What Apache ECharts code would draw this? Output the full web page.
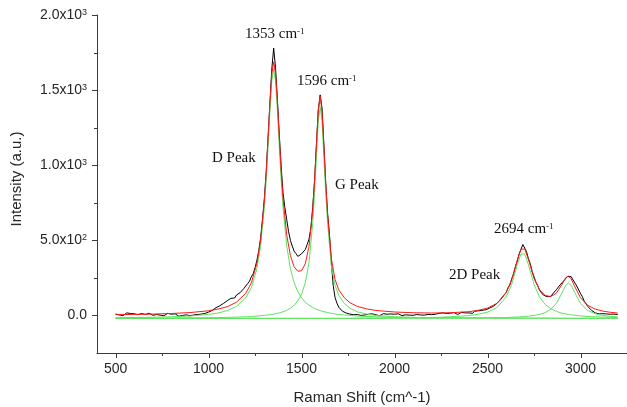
<!DOCTYPE html>
<html>
<head>
<meta charset="utf-8">
<script src="https://cdn.jsdelivr.net/npm/echarts@6/dist/echarts.min.js"></script>
<style>
html, body { margin: 0; padding: 0; background: #ffffff; }
#chart { width: 627px; height: 407px; }
</style>
</head>
<body>
<div id="chart"></div>
<script>
// Raman spectrum (cm^-1) with a four-Lorentzian fit

// measured spectrum, 500 to 3200 cm^-1 in steps of 10
const shiftStart = 500;
const shiftStep = 10;
const intensity = [
  10, 16, 3, 12, -1, 9, 17, 4, 13, 2,
  11, 18, 5, 0, 13, 19, 6, 3, 15, 7,
  1, 12, 6, 16, 2, 10, -2, 9, 14, 3,
  8, -1, 11, 3, -5, 7, 0, -7, 4, -8,
  -2, -8, 3, -5, 6, -1, 9, 2, 13, 16,
  22, 30, 34, 46, 52, 44, 64, 68, 80, 86,
  98, 102, 114, 122, 116, 136, 144, 152, 164, 180,
  193, 212, 228, 257, 278, 318, 368, 432, 518, 642,
  780, 960, 1190, 1420, 1640, 1780, 1650, 1440, 1210, 1000,
  820, 720, 640, 560, 500, 462, 428, 412, 393, 400,
  410, 422, 438, 472, 508, 582, 720, 900, 1140, 1370,
  1468, 1380, 1140, 880, 680, 540, 360, 200, 120, 82,
  55, 42, 28, 26, 16, 15, 9, 13, 5, 9,
  6, 12, 0, 9, 3, -3, 8, 2, 11, -1,
  4, 9, -2, 7, 12, 1, 8, 3, 10, 5,
  8, 1, 11, 6, -1, 9, 4, 13, 2, 7,
  1, 10, 6, 14, 3, 9, 2, 12, 7, 15,
  5, 12, 8, 2, 14, 9, 17, 6, 13, 10,
  15, 8, 19, 12, 6, 16, 21, 10, 17, 23,
  17, 25, 14, 28, 20, 31, 24, 34, 28, 38,
  36, 48, 50, 60, 63, 79, 85, 105, 115, 138,
  152, 184, 202, 244, 276, 324, 361, 410, 441, 472,
  448, 424, 376, 344, 291, 259, 221, 199, 166, 158,
  136, 135, 125, 137, 127, 143, 149, 171, 182, 203,
  209, 231, 241, 259, 263, 258, 236, 225, 196, 183,
  146, 125, 95, 83, 59, 51, 33, 29, 17, 16,
  10, 9, 12, 4, 10, 2, 8, 3, 9, 1,
  6
];

// fit curves, sampled on their own shift grid
const fitShift = [
  500, 600, 700, 800, 900, 1000, 1050, 1100, 1150, 1200,
  1230, 1260, 1280, 1300, 1310, 1320, 1330, 1340, 1350, 1360,
  1370, 1380, 1390, 1400, 1420, 1440, 1460, 1480, 1500, 1520,
  1540, 1560, 1570, 1580, 1590, 1600, 1610, 1620, 1630, 1640,
  1660, 1680, 1700, 1730, 1760, 1800, 1850, 1900, 2000, 2100,
  2200, 2300, 2400, 2450, 2500, 2550, 2600, 2630, 2660, 2680,
  2690, 2700, 2720, 2750, 2780, 2810, 2840, 2870, 2900, 2920,
  2935, 2950, 2970, 3000, 3040, 3080, 3120, 3160, 3200
];
const fitTotal = [
  5, 7, 9, 13, 19, 31, 42, 58, 88, 147,
  217, 347, 502, 762, 948, 1171, 1410, 1608, 1688, 1612,
  1419, 1185, 967, 786, 538, 399, 324, 294, 298, 344,
  460, 703, 898, 1137, 1364, 1461, 1356, 1121, 874, 669,
  380, 240, 170, 118, 85, 60, 44, 33, 23, 18,
  16, 18, 25, 34, 49, 80, 151, 237, 368, 440,
  453, 443, 373, 248, 170, 133, 126, 148, 205, 251,
  262, 244, 190, 118, 66, 42, 29, 21, 16
];
const bandD = [
  -15, -14, -12, -9, -4, 7, 16, 32, 60, 117,
  185, 312, 465, 723, 908, 1129, 1366, 1562, 1640, 1562,
  1366, 1129, 908, 723, 465, 312, 218, 158, 117, 88,
  68, 53, 46, 41, 36, 32, 28, 25, 22, 19,
  14, 10, 7, 3, 0, -4, -7, -9, -12, -14,
  -15, -16, -17, -17, -17, -18, -18, -18, -18, -18,
  -18, -18, -18, -18, -18, -18, -19, -19, -19, -19,
  -19, -19, -19, -19, -19, -19, -19, -19, -19
];
const bandG = [
  -19, -18, -18, -17, -16, -15, -14, -13, -11, -9,
  -7, -4, -2, 0, 1, 3, 5, 7, 9, 11,
  14, 17, 20, 24, 34, 48, 67, 97, 142, 217,
  353, 611, 813, 1057, 1289, 1390, 1289, 1057, 813, 611,
  330, 200, 135, 80, 48, 24, 9, 0, -9, -13,
  -15, -16, -17, -17, -17, -18, -18, -18, -18, -18,
  -18, -18, -18, -18, -18, -18, -18, -18, -19, -19,
  -19, -19, -19, -19, -19, -19, -19, -19, -19
];
const band2D = [
  -20, -20, -19, -19, -19, -19, -19, -19, -19, -19,
  -19, -19, -19, -19, -19, -19, -19, -19, -19, -19,
  -19, -19, -19, -19, -19, -19, -19, -19, -19, -19,
  -19, -19, -19, -19, -19, -19, -19, -19, -19, -19,
  -19, -19, -19, -19, -19, -18, -18, -17, -16, -15,
  -14, -9, -1, 8, 22, 52, 122, 207, 337, 409,
  420, 409, 337, 207, 122, 73, 44, 27, 15, 10,
  7, 4, 1, -3, -7, -9, -11, -12, -14
];
const band2Dp = [
  -20, -20, -20, -20, -20, -20, -20, -20, -20, -20,
  -20, -20, -20, -20, -20, -20, -20, -20, -20, -20,
  -20, -20, -20, -20, -20, -20, -20, -20, -20, -20,
  -20, -20, -20, -20, -20, -20, -20, -20, -20, -20,
  -20, -20, -20, -20, -20, -20, -20, -20, -19, -19,
  -19, -18, -18, -17, -16, -15, -14, -12, -11, -9,
  -8, -7, -5, 0, 7, 19, 41, 80, 149, 200,
  215, 200, 149, 80, 32, 11, 0, -6, -10
];

// axis ticks and labels
const xMajorTicks = [500, 1000, 1500, 2000, 2500, 3000];
const xMinorTicks = [750, 1250, 1750, 2250, 2750];
const yMajorTicks = [0, 500, 1000, 1500, 2000];
const yMinorTicks = [250, 750, 1250, 1750];
const yTickMantissa = ['0.0', '5.0x10', '1.0x10', '1.5x10', '2.0x10'];
const yTickExponent = ['', '2', '3', '3', '3'];

// peak annotations: main text, superscript
const peakNotes = [
  { text: '1353 cm', sup: '-1', x: 245, y: 41 },
  { text: '1596 cm', sup: '-1', x: 297, y: 88 },
  { text: 'D Peak', sup: '', x: 212, y: 165 },
  { text: 'G Peak', sup: '', x: 335, y: 192 },
  { text: '2694 cm', sup: '-1', x: 494, y: 236 },
  { text: '2D Peak', sup: '', x: 449, y: 282 }
];

const X_MIN = 400, X_MAX = 3250, Y_MIN = -250, Y_MAX = 2000;

const spectrum = intensity.map((v, i) => [shiftStart + i * shiftStep, v]);
const pairUp = (ys) => fitShift.map((x, i) => [x, ys[i]]);

const SANS = '"Liberation Sans", Arial, sans-serif';
const SERIF = '"Liberation Serif", "Times New Roman", serif';
const AXIS_COLOR = '#3a3a3a';
const LABEL_COLOR = '#262626';
const GREEN = '#5ee35e';
const RED = '#ff1a1a';

function lineSeries(name, data, color, z) {
  return {
    name: name,
    type: 'line',
    data: data,
    showSymbol: false,
    symbol: 'none',
    silent: true,
    z: z,
    lineStyle: { color: color, width: 1 },
    animation: false
  };
}

const chart = echarts.init(document.getElementById('chart'), null, { renderer: 'canvas' });

chart.setOption({
  animation: false,
  backgroundColor: '#ffffff',
  grid: { left: 97, right: 0, top: 15, bottom: 54, containLabel: false, outerBoundsMode: 'none' },
  xAxis: {
    type: 'value',
    min: X_MIN,
    max: X_MAX,
    splitLine: { show: false },
    name: 'Raman Shift (cm^-1)',
    nameLocation: 'middle',
    nameGap: 37,
    nameTextStyle: { fontFamily: SANS, fontSize: 15, color: LABEL_COLOR },
    axisLine: { show: true, onZero: false, lineStyle: { color: AXIS_COLOR, width: 1 } },
    axisTick: { show: false },
    axisLabel: {
      show: true, customValues: xMajorTicks.slice(), margin: 9,
      fontFamily: SANS, fontSize: 14, color: LABEL_COLOR,
      formatter: function (value) { return String(value); }
    }
  },
  yAxis: {
    type: 'value',
    min: Y_MIN,
    max: Y_MAX,
    splitLine: { show: false },
    name: 'Intensity (a.u.)',
    nameLocation: 'middle',
    nameGap: 73,
    nameTextStyle: { fontFamily: SANS, fontSize: 15, color: LABEL_COLOR, padding: [0, 0, 0, 10] },
    axisLine: { show: true, onZero: false, lineStyle: { color: AXIS_COLOR, width: 1 } },
    axisTick: { show: false },
    axisLabel: {
      show: true,
      customValues: yMajorTicks.slice(),
      margin: 10,
      formatter: function (value) {
        const i = yMajorTicks.indexOf(value);
        if (i < 0) return '';
        const exp = yTickExponent[i];
        return exp ? '{m|' + yTickMantissa[i] + '}{e|' + exp + '}' : '{m|' + yTickMantissa[i] + '}';
      },
      rich: {
        m: { fontFamily: SANS, fontSize: 14, color: LABEL_COLOR },
        e: { fontFamily: SANS, fontSize: 9, color: LABEL_COLOR, verticalAlign: 'top' }
      }
    }
  },
  series: [
    lineSeries('Spectrum', spectrum, '#000000', 2),
    lineSeries('D band', pairUp(bandD), GREEN, 3),
    lineSeries('G band', pairUp(bandG), GREEN, 3),
    lineSeries('2D band', pairUp(band2D), GREEN, 3),
    lineSeries("2D' band", pairUp(band2Dp), GREEN, 3),
    lineSeries('Cumulative fit', pairUp(fitTotal), RED, 4)
  ]
});

// outward tick marks, placed through the axes' own value-to-pixel mapping
const overlay = [];
function pushTick(value, onX, len) {
  let shape;
  if (onX) {
    const p = chart.convertToPixel({ gridIndex: 0 }, [value, Y_MIN]);
    const x = Math.round(p[0]) + 0.5;
    shape = { x1: x, y1: p[1], x2: x, y2: p[1] + len };
  } else {
    const p = chart.convertToPixel({ gridIndex: 0 }, [X_MIN, value]);
    const y = Math.round(p[1]) + 0.5;
    shape = { x1: p[0] - len, y1: y, x2: p[0], y2: y };
  }
  overlay.push({ type: 'line', silent: true, z: 6, shape: shape,
                 style: { stroke: AXIS_COLOR, lineWidth: 1 } });
}
xMajorTicks.forEach(v => pushTick(v, true, 5));
xMinorTicks.forEach(v => pushTick(v, true, 3));
yMajorTicks.forEach(v => pushTick(v, false, 5));
yMinorTicks.forEach(v => pushTick(v, false, 3));

// peak annotations
peakNotes.forEach(function (n) {
  overlay.push({
    type: 'text',
    left: n.x,
    top: n.y - 14,
    silent: true,
    z: 10,
    style: {
      text: n.sup ? '{b|' + n.text + '}{s|' + n.sup + '}' : '{b|' + n.text + '}',
      rich: {
        b: { fontFamily: SERIF, fontSize: 15, fill: '#111' },
        s: { fontFamily: SERIF, fontSize: 9, fill: '#111', verticalAlign: 'top' }
      }
    }
  });
});

chart.setOption({ graphic: { elements: overlay } });
</script>
</body>
</html>
